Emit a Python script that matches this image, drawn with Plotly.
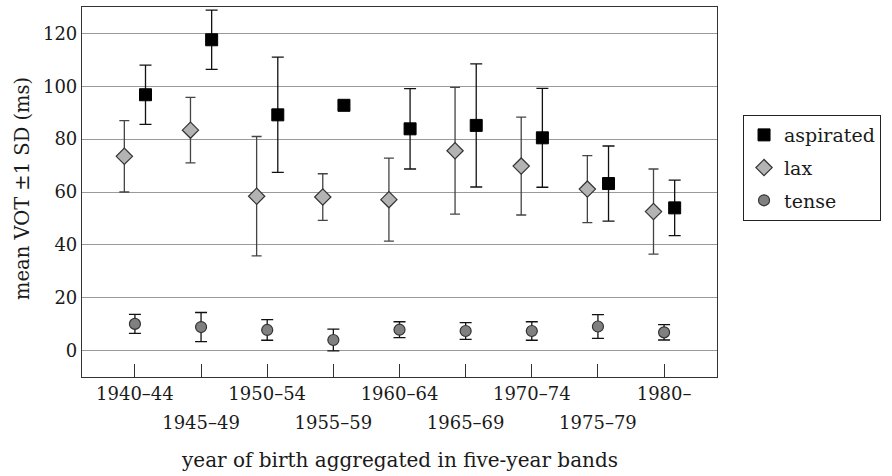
import plotly.graph_objects as go

categories = ["1940–44", "1945–49", "1950–54", "1955–59", "1960–64",
              "1965–69", "1970–74", "1975–79", "1980–"]
aspirated_mean = [96.8, 117.6, 89.2, 92.8, 83.9, 85.2, 80.5, 63.2, 54.0]
aspirated_sd = [11.2, 11.2, 21.8, 1.2, 15.2, 23.3, 18.7, 14.2, 10.5]
lax_mean = [73.5, 83.4, 58.4, 58.1, 57.1, 75.6, 69.8, 61.1, 52.6]
lax_sd = [13.5, 12.4, 22.6, 8.8, 15.7, 24.0, 18.5, 12.7, 16.1]
tense_mean = [10.1, 8.9, 7.8, 4.0, 7.9, 7.4, 7.4, 9.1, 6.9]
tense_sd = [3.6, 5.5, 3.9, 4.1, 3.0, 3.2, 3.5, 4.5, 2.9]
y_ticks = [0, 20, 40, 60, 80, 100, 120]

idx = list(range(len(categories)))
offset = 0.16
FONT = "DejaVu Serif"
TXT = "#1a1a1a"

fig = go.Figure()
fig.add_trace(go.Scatter(
    x=[i + offset for i in idx], y=aspirated_mean, mode="markers", name="aspirated",
    legendgroup="a",
    marker=dict(symbol="square", size=12, color="black", line=dict(color="black", width=1)),
    error_y=dict(type="data", array=aspirated_sd, color="#111111", thickness=1.3, width=6),
))
fig.add_trace(go.Scatter(
    x=[i - offset for i in idx], y=lax_mean, mode="markers", name="lax",
    legendgroup="b",
    marker=dict(symbol="diamond", size=12.5, color="#b3b3b3", line=dict(color="#333333", width=1.2)),
    error_y=dict(type="data", array=lax_sd, color="#444444", thickness=1.3, width=5),
))
fig.add_trace(go.Scatter(
    x=idx, y=tense_mean, mode="markers", name="tense",
    legendgroup="c",
    marker=dict(symbol="circle", size=11, color="#808080", line=dict(color="#333333", width=1.2)),
    error_y=dict(type="data", array=tense_sd, color="#111111", thickness=1.3, width=6),
))
# invisible trace on second x axis to carry the second row of labels
fig.add_trace(go.Scatter(x=[idx[0]], y=[None], xaxis="x2", showlegend=False, hoverinfo="skip"))

row1 = [c if i % 2 == 0 else "" for i, c in enumerate(categories)]
row2 = [c if i % 2 == 1 else "" for i, c in enumerate(categories)]

fig.update_layout(
    width=892, height=476,
    margin=dict(l=82, r=175, t=7, b=99),
    plot_bgcolor="white", paper_bgcolor="white",
    font=dict(family=FONT, size=18, color=TXT),
    showlegend=True,
    legend=dict(x=1.041, y=0.708, xanchor="left", yanchor="top",
                bordercolor="#222222", borderwidth=1, bgcolor="white",
                traceorder="grouped", tracegroupgap=5,
                font=dict(family=FONT, size=19, color=TXT)),
    xaxis=dict(range=[-0.8, 8.8], tickmode="array", tickvals=idx, ticktext=row1,
               ticks="inside", ticklen=13, tickwidth=1.2, tickcolor="#333333",
               showgrid=False, zeroline=False, showline=True, linecolor="#333333",
               linewidth=1.2, mirror=True, tickfont=dict(family=FONT, size=18, color=TXT)),
    xaxis2=dict(range=[-0.8, 8.8], overlaying="x", side="bottom", anchor="y",
                tickmode="array", tickvals=idx, ticktext=row2, ticks="",
                ticklabelstandoff=33, showgrid=False, zeroline=False, showline=False,
                tickfont=dict(family=FONT, size=18, color=TXT)),
    yaxis=dict(range=[-10, 130], tickvals=y_ticks,
               showgrid=True, gridcolor="#9a9a9a", gridwidth=1.3, zeroline=False,
               showline=True, linecolor="#333333", linewidth=1.2, mirror=True,
               ticks="", tickfont=dict(family=FONT, size=18, color=TXT)),
    annotations=[
        dict(text="year of birth aggregated in five-year bands", xref="paper", yref="paper",
             x=0.5, y=(377 - 460) / 370, yanchor="middle", showarrow=False,
             font=dict(family=FONT, size=20, color=TXT)),
        dict(text="mean VOT ±1 SD (ms)", xref="paper", yref="paper", x=(22 - 82) / 635,
             y=(377 - 189) / 370,
             textangle=-90, showarrow=False, xanchor="center", yanchor="middle",
             font=dict(family=FONT, size=19.5, color=TXT)),
    ],
)
fig.write_html("out.html", config={"displayModeBar": False},
               post_script="document.body.style.margin='0';")
